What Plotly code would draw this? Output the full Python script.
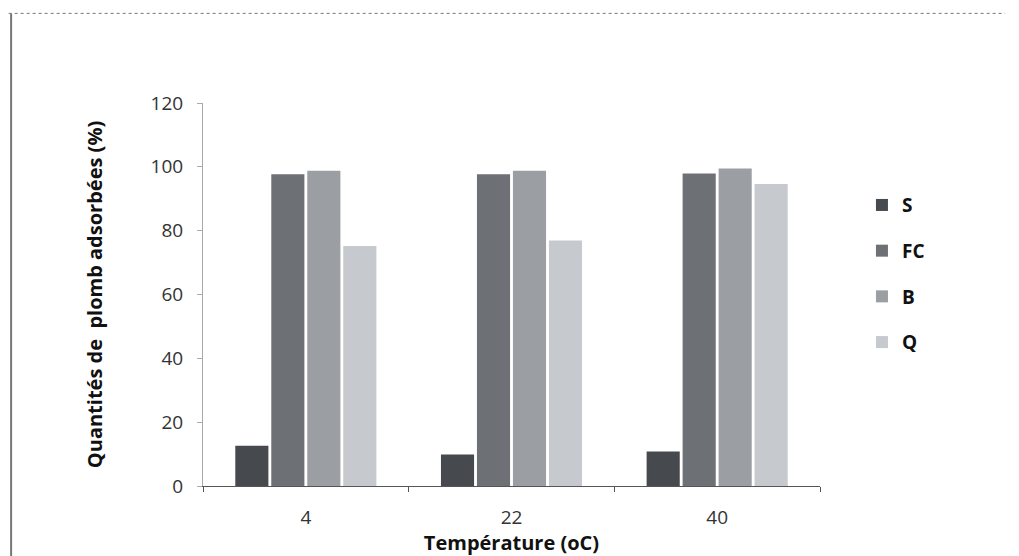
import plotly.graph_objects as go

categories = ["4", "22", "40"]
series_names = ["S", "FC", "B", "Q"]
S_vals = [12.6, 9.9, 10.8]
FC_vals = [97.7, 97.7, 97.9]
B_vals = [98.8, 98.8, 99.5]
Q_vals = [75.2, 76.9, 94.6]
colors = ["#46494e", "#6d7075", "#9b9ea2", "#c6c9cd"]
y_ticks = [0, 20, 40, 60, 80, 100, 120]

fig = go.Figure()
for name, vals, col in zip(series_names, [S_vals, FC_vals, B_vals, Q_vals], colors):
    fig.add_trace(go.Bar(
        x=categories, y=vals, name=name, legendgroup=name,
        marker=dict(color=col, line=dict(width=0)),
    ))

fig.update_layout(
    width=1019, height=556,
    margin=dict(l=203, r=199, t=103, b=70, autoexpand=False),
    paper_bgcolor="white", plot_bgcolor="white",
    barmode="group", bargap=0.3, bargroupgap=0.08,
    font=dict(family="Open Sans, Noto Sans, sans-serif", color="#2a2a2a"),
    showlegend=True,
    legend=dict(
        x=1.068, y=0.783, xanchor="left", yanchor="top",
        font=dict(size=19, color="#111111", family="Open Sans, sans-serif", weight="bold"),
        traceorder="grouped", tracegroupgap=18,
        bgcolor="rgba(0,0,0,0)",
    ),
    xaxis=dict(
        type="category",
        showline=True, linecolor="#555555", linewidth=1,
        ticks="outside", tickson="boundaries", ticklen=5, tickcolor="#555555",
        tickfont=dict(size=19, color="#333333"),
        ticklabelstandoff=14,
        showgrid=False, automargin=False,
        title=dict(text="<b>Température (oC)</b>", font=dict(size=20, color="#111111"), standoff=2),
    ),
    yaxis=dict(
        range=[0, 120], tickvals=y_ticks,
        showline=True, linecolor="#aaaaaa", linewidth=1,
        ticks="outside", ticklen=5, tickcolor="#aaaaaa",
        tickfont=dict(size=19, color="#333333"),
        ticklabelstandoff=10,
        showgrid=False, zeroline=False, automargin=False,
        title=dict(text="<b>Quantités de  plomb adsorbées (%)</b>", font=dict(size=20, color="#111111"), standoff=42),
    ),
    shapes=[
        dict(type="line", xref="paper", yref="paper",
             x0=-0.311, x1=-0.311, y0=1.234, y1=-0.2, line=dict(color="#777777", width=2)),
        dict(type="line", xref="paper", yref="paper",
             x0=-0.315, x1=1.30, y0=1.234, y1=1.234, line=dict(color="#777777", width=1, dash="dot")),
    ],
)

fig.write_html("out.html")
